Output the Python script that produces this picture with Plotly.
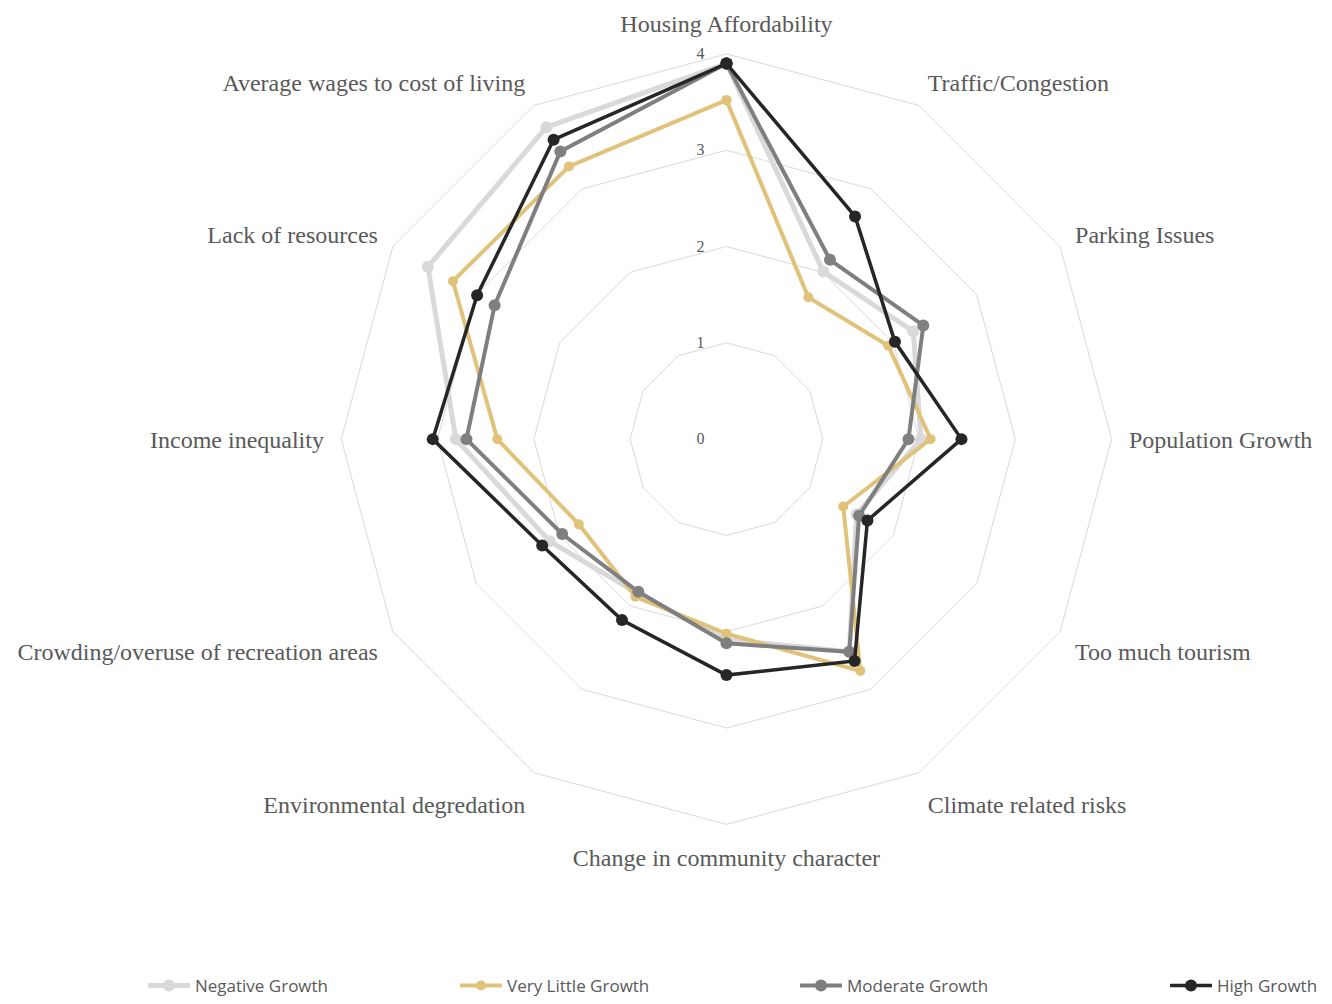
import plotly.graph_objects as go

# Issue categories, clockwise from the top
categories = [
    "Housing Affordability", "Traffic/Congestion", "Parking Issues",
    "Population Growth", "Too much tourism", "Climate related risks",
    "Change in community character", "Environmental degredation",
    "Crowding/overuse of recreation areas", "Income inequality",
    "Lack of resources", "Average wages to cost of living",
]

# Mean concern score per growth group
negative_growth = [3.90, 2.01, 2.24, 2.02, 1.56, 2.55, 2.08, 1.85, 2.12, 2.81, 3.58, 3.74]
very_little_growth = [3.52, 1.70, 1.94, 2.12, 1.40, 2.78, 2.02, 1.89, 1.77, 2.38, 3.28, 3.27]
moderate_growth = [3.90, 2.15, 2.36, 1.89, 1.59, 2.55, 2.12, 1.83, 1.97, 2.70, 2.78, 3.45]
high_growth = [3.90, 2.67, 2.02, 2.44, 1.69, 2.66, 2.45, 2.17, 2.21, 3.05, 2.99, 3.59]

radial_ticks = [0, 1, 2, 3, 4]

series = [
    ("Negative Growth", negative_growth, "#d9d9d9", 5, 12, "legend"),
    ("Very Little Growth", very_little_growth, "#e1c27a", 4, 10, "legend2"),
    ("Moderate Growth", moderate_growth, "#7f7f7f", 4, 12, "legend3"),
    ("High Growth", high_growth, "#262626", 3.5, 12, "legend4"),
]

fig = go.Figure()
for name, vals, color, lw, ms, lg in series:
    fig.add_trace(go.Scatterpolar(
        r=vals + vals[:1],
        theta=categories + categories[:1],
        mode="lines+markers",
        name=name,
        line=dict(color=color, width=lw),
        marker=dict(color=color, size=ms),
        legend=lg,
        showlegend=True,
    ))

text_grey = "#595959"
grid_grey = "#d9d9d9"

legend_common = dict(
    orientation="h", yanchor="middle", y=0.016, xanchor="left",
    font=dict(family="Open Sans", size=17, color=text_grey),
    bgcolor="rgba(0,0,0,0)",
    itemwidth=42,
)

fig.update_layout(
    width=1332, height=1004,
    margin=dict(l=0, r=0, t=0, b=0),
    paper_bgcolor="white",
    plot_bgcolor="white",
    showlegend=True,
    polar=dict(
        domain=dict(x=[0.2556, 0.8352], y=[0.1773, 0.9462]),
        bgcolor="white",
        gridshape="linear",
        radialaxis=dict(
            range=[0, 4],
            tickvals=radial_ticks,
            angle=90,
            tickangle=90,
            side="counterclockwise",
            showline=False,
            ticks="outside",
            ticklen=16,
            tickcolor="rgba(0,0,0,0)",
            gridcolor=grid_grey,
            gridwidth=1,
            tickfont=dict(family="Liberation Serif", size=16, color=text_grey),
        ),
        angularaxis=dict(
            direction="clockwise",
            rotation=90,
            showgrid=False,
            showline=True,
            linecolor=grid_grey,
            linewidth=1,
            ticks="outside",
            ticklen=12,
            tickcolor="rgba(0,0,0,0)",
            tickfont=dict(family="Liberation Serif", size=24, color=text_grey),
        ),
    ),
    legend=dict(x=143 / 1332, **legend_common),
    legend2=dict(x=455 / 1332, **legend_common),
    legend3=dict(x=795 / 1332, **legend_common),
    legend4=dict(x=1165 / 1332, **legend_common),
)

fig.write_html("out.html")
